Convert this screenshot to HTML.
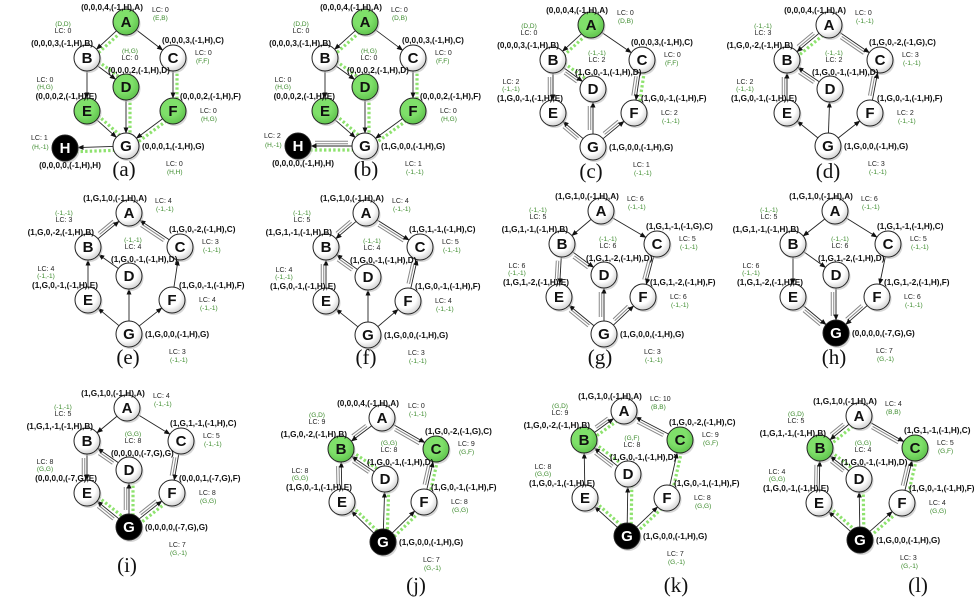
<!DOCTYPE html>
<html><head><meta charset="utf-8">
<style>
html,body{margin:0;padding:0;background:#fff}
svg{display:block;font-family:"Liberation Sans",sans-serif}
.tp{font-size:8.2px;font-weight:bold;fill:#111}
.lc{font-size:7px;fill:#222}
.gr{font-size:6.5px;fill:#3a8a2a}
.cap{font-family:"Liberation Serif",serif;font-size:21px;fill:#111}
.nl{font-size:15px;font-weight:bold}
</style></head>
<body>
<svg id="s" width="974" height="601" viewBox="0 0 974 601">
<defs>
<marker id="ar" viewBox="0 0 10 10" refX="9" refY="5" markerWidth="7" markerHeight="7" orient="auto-start-reverse"><path d="M0,1 L10,5 L0,9 z" fill="#111"/></marker>
<radialGradient id="wg" cx="0.4" cy="0.35" r="0.7"><stop offset="0.6" stop-color="#fff"/><stop offset="1" stop-color="#ccc"/></radialGradient>
<radialGradient id="gg" cx="0.4" cy="0.35" r="0.7"><stop offset="0.5" stop-color="#7fe06a"/><stop offset="1" stop-color="#5cc04a"/></radialGradient>
</defs>
</svg>
<script>
const NS='http://www.w3.org/2000/svg';
const svg=document.getElementById('s');
const panelIds=['a','b','c','d','e','f','g','h','i','j','k','l'];
const nodePos=[
 {A:[126,22],B:[87,58],C:[173,58],D:[126,87],E:[87,111],F:[173,111],G:[126,146],H:[65,148],cap:[124,176]},
 {A:[365,22],B:[325,58],C:[413,58],D:[365,87],E:[325,111],F:[413,111],G:[365,146],H:[298,146],cap:[366,176]},
 {A:[591,25],B:[553,60],C:[642,60],D:[593,89],E:[553,113],F:[634,113],G:[593,147],cap:[591,178]},
 {A:[829,25],B:[787,60],C:[880,60],D:[830,89],E:[787,113],F:[870,113],G:[828,146],cap:[828,178]},
 {A:[129,213],B:[88,247],C:[180,247],D:[129,276],E:[88,300],F:[172,300],G:[129,334],cap:[128,364]},
 {A:[366,213],B:[326,247],C:[420,247],D:[368,277],E:[326,301],F:[408,301],G:[368,335],cap:[366,364]},
 {A:[601,211],B:[562,244],C:[657,244],D:[604,275],E:[559,297],F:[643,297],G:[604,334],cap:[600,364]},
 {A:[835,211],B:[793,244],C:[888,244],D:[836,275],E:[793,297],F:[877,297],G:[836,333],cap:[834,364]},
 {A:[127,408],B:[87,441],C:[181,441],D:[129,470],E:[87,493],F:[172,493],G:[129,527],cap:[127,572]},
 {A:[382,418],B:[341,449],C:[436,449],D:[385,479],E:[342,502],F:[424,502],G:[383,542],cap:[416,592]},
 {A:[624,411],B:[584,440],C:[680,440],D:[628,474],E:[585,498],F:[667,498],G:[627,536],cap:[676,592]},
 {A:[859,416],B:[820,448],C:[915,448],D:[859,479],E:[819,503],F:[902,503],G:[860,540],cap:[918,592]}
];
const tuples=[
 {A:'(0,0,0,4,(-1,H),A)',B:'(0,0,0,3,(-1,H),B)',C:'(0,0,0,3,(-1,H),C)',D:'(0,0,0,2,(-1,H),D)',E:'(0,0,0,2,(-1,H),E)',F:'(0,0,0,2,(-1,H),F)',G:'(0,0,0,1,(-1,H),G)',H:'(0,0,0,0,(-1,H),H)'},
 {A:'(0,0,0,4,(-1,H),A)',B:'(0,0,0,3,(-1,H),B)',C:'(0,0,0,3,(-1,H),C)',D:'(0,0,0,2,(-1,H),D)',E:'(0,0,0,2,(-1,H),E)',F:'(0,0,0,2,(-1,H),F)',G:'(1,G,0,0,(-1,H),G)',H:'(0,0,0,0,(-1,H),H)'},
 {A:'(0,0,0,4,(-1,H),A)',B:'(0,0,0,3,(-1,H),B)',C:'(0,0,0,3,(-1,H),C)',D:'(1,G,0,-1,(-1,H),D)',E:'(1,G,0,-1,(-1,H),E)',F:'(1,G,0,-1,(-1,H),F)',G:'(1,G,0,0,(-1,H),G)'},
 {A:'(0,0,0,4,(-1,H),A)',B:'(1,G,0,-2,(-1,H),B)',C:'(1,G,0,-2,(-1,G),C)',D:'(1,G,0,-1,(-1,H),D)',E:'(1,G,0,-1,(-1,H),E)',F:'(1,G,0,-1,(-1,H),F)',G:'(1,G,0,0,(-1,H),G)'},
 {A:'(1,G,1,0,(-1,H),A)',B:'(1,G,0,-2,(-1,H),B)',C:'(1,G,0,-2,(-1,H),C)',D:'(1,G,0,-1,(-1,H),D)',E:'(1,G,0,-1,(-1,H),E)',F:'(1,G,0,-1,(-1,H),F)',G:'(1,G,0,0,(-1,H),G)'},
 {A:'(1,G,1,0,(-1,H),A)',B:'(1,G,1,-1,(-1,H),B)',C:'(1,G,1,-1,(-1,H),C)',D:'(1,G,0,-1,(-1,H),D)',E:'(1,G,0,-1,(-1,H),E)',F:'(1,G,0,-1,(-1,H),F)',G:'(1,G,0,0,(-1,H),G)'},
 {A:'(1,G,1,0,(-1,H),A)',B:'(1,G,1,-1,(-1,H),B)',C:'(1,G,1,-1,(-1,G),C)',D:'(1,G,1,-2,(-1,H),D)',E:'(1,G,1,-2,(-1,H),E)',F:'(1,G,1,-2,(-1,H),F)',G:'(1,G,0,0,(-1,H),G)'},
 {A:'(1,G,1,0,(-1,H),A)',B:'(1,G,1,-1,(-1,H),B)',C:'(1,G,1,-1,(-1,H),C)',D:'(1,G,1,-2,(-1,H),D)',E:'(1,G,1,-2,(-1,H),E)',F:'(1,G,1,-2,(-1,H),F)',G:'(0,0,0,0,(-7,G),G)'},
 {A:'(1,G,1,0,(-1,H),A)',B:'(1,G,1,-1,(-1,H),B)',C:'(1,G,1,-1,(-1,H),C)',D:'(0,0,0,0,(-7,G),G)',E:'(0,0,0,0,(-7,G),E)',F:'(0,0,0,1,(-7,G),F)',G:'(0,0,0,0,(-7,G),G)'},
 {A:'(0,0,0,4,(-1,H),A)',B:'(1,G,0,-2,(-1,H),B)',C:'(1,G,0,-2,(-1,G),C)',D:'(1,G,0,-1,(-1,H),D)',E:'(1,G,0,-1,(-1,H),E)',F:'(1,G,0,-1,(-1,H),F)',G:'(1,G,0,0,(-1,H),G)'},
 {A:'(1,G,1,0,(-1,H),A)',B:'(1,G,0,-2,(-1,H),B)',C:'(1,G,0,-2,(-1,H),C)',D:'(1,G,0,-1,(-1,H),D)',E:'(1,G,0,-1,(-1,H),E)',F:'(1,G,0,-1,(-1,H),F)',G:'(1,G,0,0,(-1,H),G)'},
 {A:'(1,G,1,0,(-1,H),A)',B:'(1,G,1,-1,(-1,H),B)',C:'(1,G,1,-1,(-1,H),C)',D:'(1,G,0,-1,(-1,H),D)',E:'(1,G,0,-1,(-1,H),E)',F:'(1,G,0,-1,(-1,H),F)',G:'(1,G,0,0,(-1,H),G)'}
];
const lcVals=[
 {A:['0','(E,B)'],B:['0','(D,D)'],C:['0','(F,F)'],D:['0','(H,G)'],E:['0','(H,G)'],F:['0','(H,G)'],G:['0','(H,H)'],H:['1','(H,-1)']},
 {A:['0','(D,B)'],B:['0','(D,D)'],C:['0','(F,F)'],D:['0','(H,G)'],E:['0','(H,G)'],F:['0','(H,G)'],G:['1','(-1,-1)'],H:['2','(H,-1)']},
 {A:['0','(D,B)'],B:['0','(D,D)'],C:['0','(F,F)'],D:['2','(-1,-1)'],E:['2','(-1,-1)'],F:['2','(-1,-1)'],G:['1','(-1,-1)']},
 {A:['0','(-1,-1)'],B:['3','(-1,-1)'],C:['3','(-1,-1)'],D:['2','(-1,-1)'],E:['2','(-1,-1)'],F:['2','(-1,-1)'],G:['3','(-1,-1)']},
 {A:['4','(-1,-1)'],B:['3','(-1,-1)'],C:['3','(-1,-1)'],D:['4','(-1,-1)'],E:['4','(-1,-1)'],F:['4','(-1,-1)'],G:['3','(-1,-1)']},
 {A:['4','(-1,-1)'],B:['5','(-1,-1)'],C:['5','(-1,-1)'],D:['4','(-1,-1)'],E:['4','(-1,-1)'],F:['4','(-1,-1)'],G:['3','(-1,-1)']},
 {A:['6','(-1,-1)'],B:['5','(-1,-1)'],C:['5','(-1,-1)'],D:['6','(-1,-1)'],E:['6','(-1,-1)'],F:['6','(-1,-1)'],G:['3','(-1,-1)']},
 {A:['6','(-1,-1)'],B:['5','(-1,-1)'],C:['5','(-1,-1)'],D:['6','(-1,-1)'],E:['6','(-1,-1)'],F:['6','(-1,-1)'],G:['7','(G,-1)']},
 {A:['4','(-1,-1)'],B:['5','(-1,-1)'],C:['5','(-1,-1)'],D:['8','(G,G)'],E:['8','(G,G)'],F:['8','(G,G)'],G:['7','(G,-1)']},
 {A:['0','(-1,-1)'],B:['9','(G,D)'],C:['9','(G,F)'],D:['8','(G,G)'],E:['8','(G,G)'],F:['8','(G,G)'],G:['7','(G,-1)']},
 {A:['10','(B,B)'],B:['9','(G,D)'],C:['9','(G,F)'],D:['8','(G,F)'],E:['8','(G,G)'],F:['8','(G,G)'],G:['7','(G,-1)']},
 {A:['4','(B,B)'],B:['5','(G,D)'],C:['5','(G,F)'],D:['4','(G,G)'],E:['4','(G,G)'],F:['4','(G,G)'],G:['3','(G,-1)']}
];
const greenNodes=['ADEF','ADEF','A','','','','','','','BC','BC','BC'];
const blackNodes=['H','H','','','','','','G','G','G','G','G'];
const edges=[
 'AB AC BD BE CF DG EG FG GH','AB AC BD BE CF DG EG FG GH','AB AC BD BE CF GD GE GF','AB AC DB EB FC GD GE GF',
 'BA CA DB EB FC GD GE GF','AB AC DB EB FC GD GE GF','AB AC BD BE CF GD GE GF','AB AC BD BE CF DG EG FG',
 'AB AC DB BE CF GD GE GF','AB AC DB EB FC GD GE GF','BA CA DB EB FC GD GE GF','AB AC DB EB FC GD GE GF'
];
const hollow=['','GH','BD BE DG EG FG CF','AB AC BD BE CF','AB AC','AB AC BD BE CF','BD BE DG EG FG CF','DG EG FG','BD BE DG EG FG CF','AB AC BD BE CF','AB AC BD','AB AC BD BE CF'];
const dotted=['AB BD CF DG EG FG GH','AB BD CF DG FG EG GH','AB BD CF','AB','','','','','DG EG FG','BD CF DG EG FG','AB BD CF DG EG FG','AB BD CF DG EG FG'];

function mk(tag,attrs,parent){const e=document.createElementNS(NS,tag);for(const k in attrs)e.setAttribute(k,attrs[k]);(parent||svg).appendChild(e);return e;}
function txt(p,x,y,cls,s,anchor){const t=mk('text',{x:x,y:y,class:cls,'text-anchor':anchor||'start'},p);t.textContent=s;return t;}
const R=13;
panelIds.forEach((pid,i)=>{
 const P=nodePos[i];
 const g=mk('g',{});
 
 
 const nodes=Object.keys(tuples[i]);
 function seg(a,b,off,shr){const [x1,y1]=P[a],[x2,y2]=P[b];const dx=x2-x1,dy=y2-y1,L=Math.hypot(dx,dy),ux=dx/L,uy=dy/L;const nx=-uy*off,ny=ux*off;return [x1+ux*(R+shr)+nx,y1+uy*(R+shr)+ny,x2-ux*(R+shr)+nx,y2-uy*(R+shr)+ny];}
 dotted[i].split(' ').filter(Boolean).forEach(e=>{const s=seg(e[0],e[1],-4,-2);
  const l=mk('line',{x1:s[0],y1:s[1],x2:s[2],y2:s[3],stroke:'#8ee26e','stroke-width':3.2,'stroke-dasharray':'2.4,2.2'},g);
  
  });
 hollow[i].split(' ').filter(Boolean).forEach(e=>{const s=seg(e[0],e[1],3.5,4);
  const l=mk('line',{x1:s[0],y1:s[1],x2:s[2],y2:s[3],stroke:'#888','stroke-width':3.5},g);
  
  
  mk('line',{x1:s[0],y1:s[1],x2:s[2],y2:s[3],stroke:'#fff','stroke-width':1.5},g);});
 edges[i].split(' ').forEach(e=>{const s=seg(e[0],e[1],0,0);
  const l=mk('line',{x1:s[0],y1:s[1],x2:s[2],y2:s[3],stroke:'#222','stroke-width':0.9,'marker-end':'url(#ar)'},g);
  
  });
 nodes.forEach(n=>{
  const [x,y]=P[n];
  const isG=greenNodes[i].includes(n),isB=blackNodes[i].includes(n);
  mk('circle',{cx:x+1.5,cy:y+2,r:R,fill:'#bbb',opacity:0.6},g);
  const c=mk('circle',{cx:x,cy:y,r:R,fill:isB?'#000':(isG?'url(#gg)':'url(#wg)'),stroke:'#222','stroke-width':1},g);
  
  
  const t=txt(g,x,y+5,'nl',n,'middle');t.setAttribute('fill',isB?'#fff':'#111');
  const T=tuples[i][n];let tl;
  if(n==='A')tl=txt(g,x-14,y-12,'tp',T,'middle');
  else if(n==='B')tl=txt(g,x+6,y-12,'tp',T,'end');
  else if(n==='C')tl=txt(g,x-11,y-15,'tp',T,'start');
  else if(n==='D')tl=txt(g,x-18,y-14,'tp',T,'start');
  else if(n==='E')tl=txt(g,x+10,y-12,'tp',T,'end');
  else if(n==='F')tl=txt(g,x+7,y-12,'tp',T,'start');
  else if(n==='G')tl=txt(g,x+16,y+3,'tp',T,'start');
  else tl=txt(g,x+5,y+20,'tp',T,'middle');
  
  
  const [lv,gv]=lcVals[i][n];let lx,ly,gy,anc='start';
  if(n==='A'){lx=x+26;ly=y-10;gy=y-2;}
  else if(n==='B'){lx=x-24;ly=y-25;gy=y-32;anc='middle';}
  else if(n==='C'){lx=x+22;ly=y-3;gy=y+5;}
  else if(n==='D'){lx=x+4;ly=y-27;gy=y-34;anc='middle';}
  else if(n==='E'){lx=x-42;ly=y-29;gy=y-22;anc='middle';}
  else if(n==='F'){lx=x+27;ly=y+2;gy=y+10;}
  else if(n==='G'){lx=x+40;ly=y+20;gy=y+28;}
  else {lx=x-34;ly=y-8;gy=y+1;}
  const lt=txt(g,lx,ly,'lc','LC: '+lv,anc);
  
  
  const gt=txt(g,lx+(anc==='start'?1:0),gy,'gr',gv,anc);
  
  
 });
 const cp=txt(g,P.cap[0],P.cap[1],'cap','('+pid+')','middle');
 
 
});
</script>
</body></html>
